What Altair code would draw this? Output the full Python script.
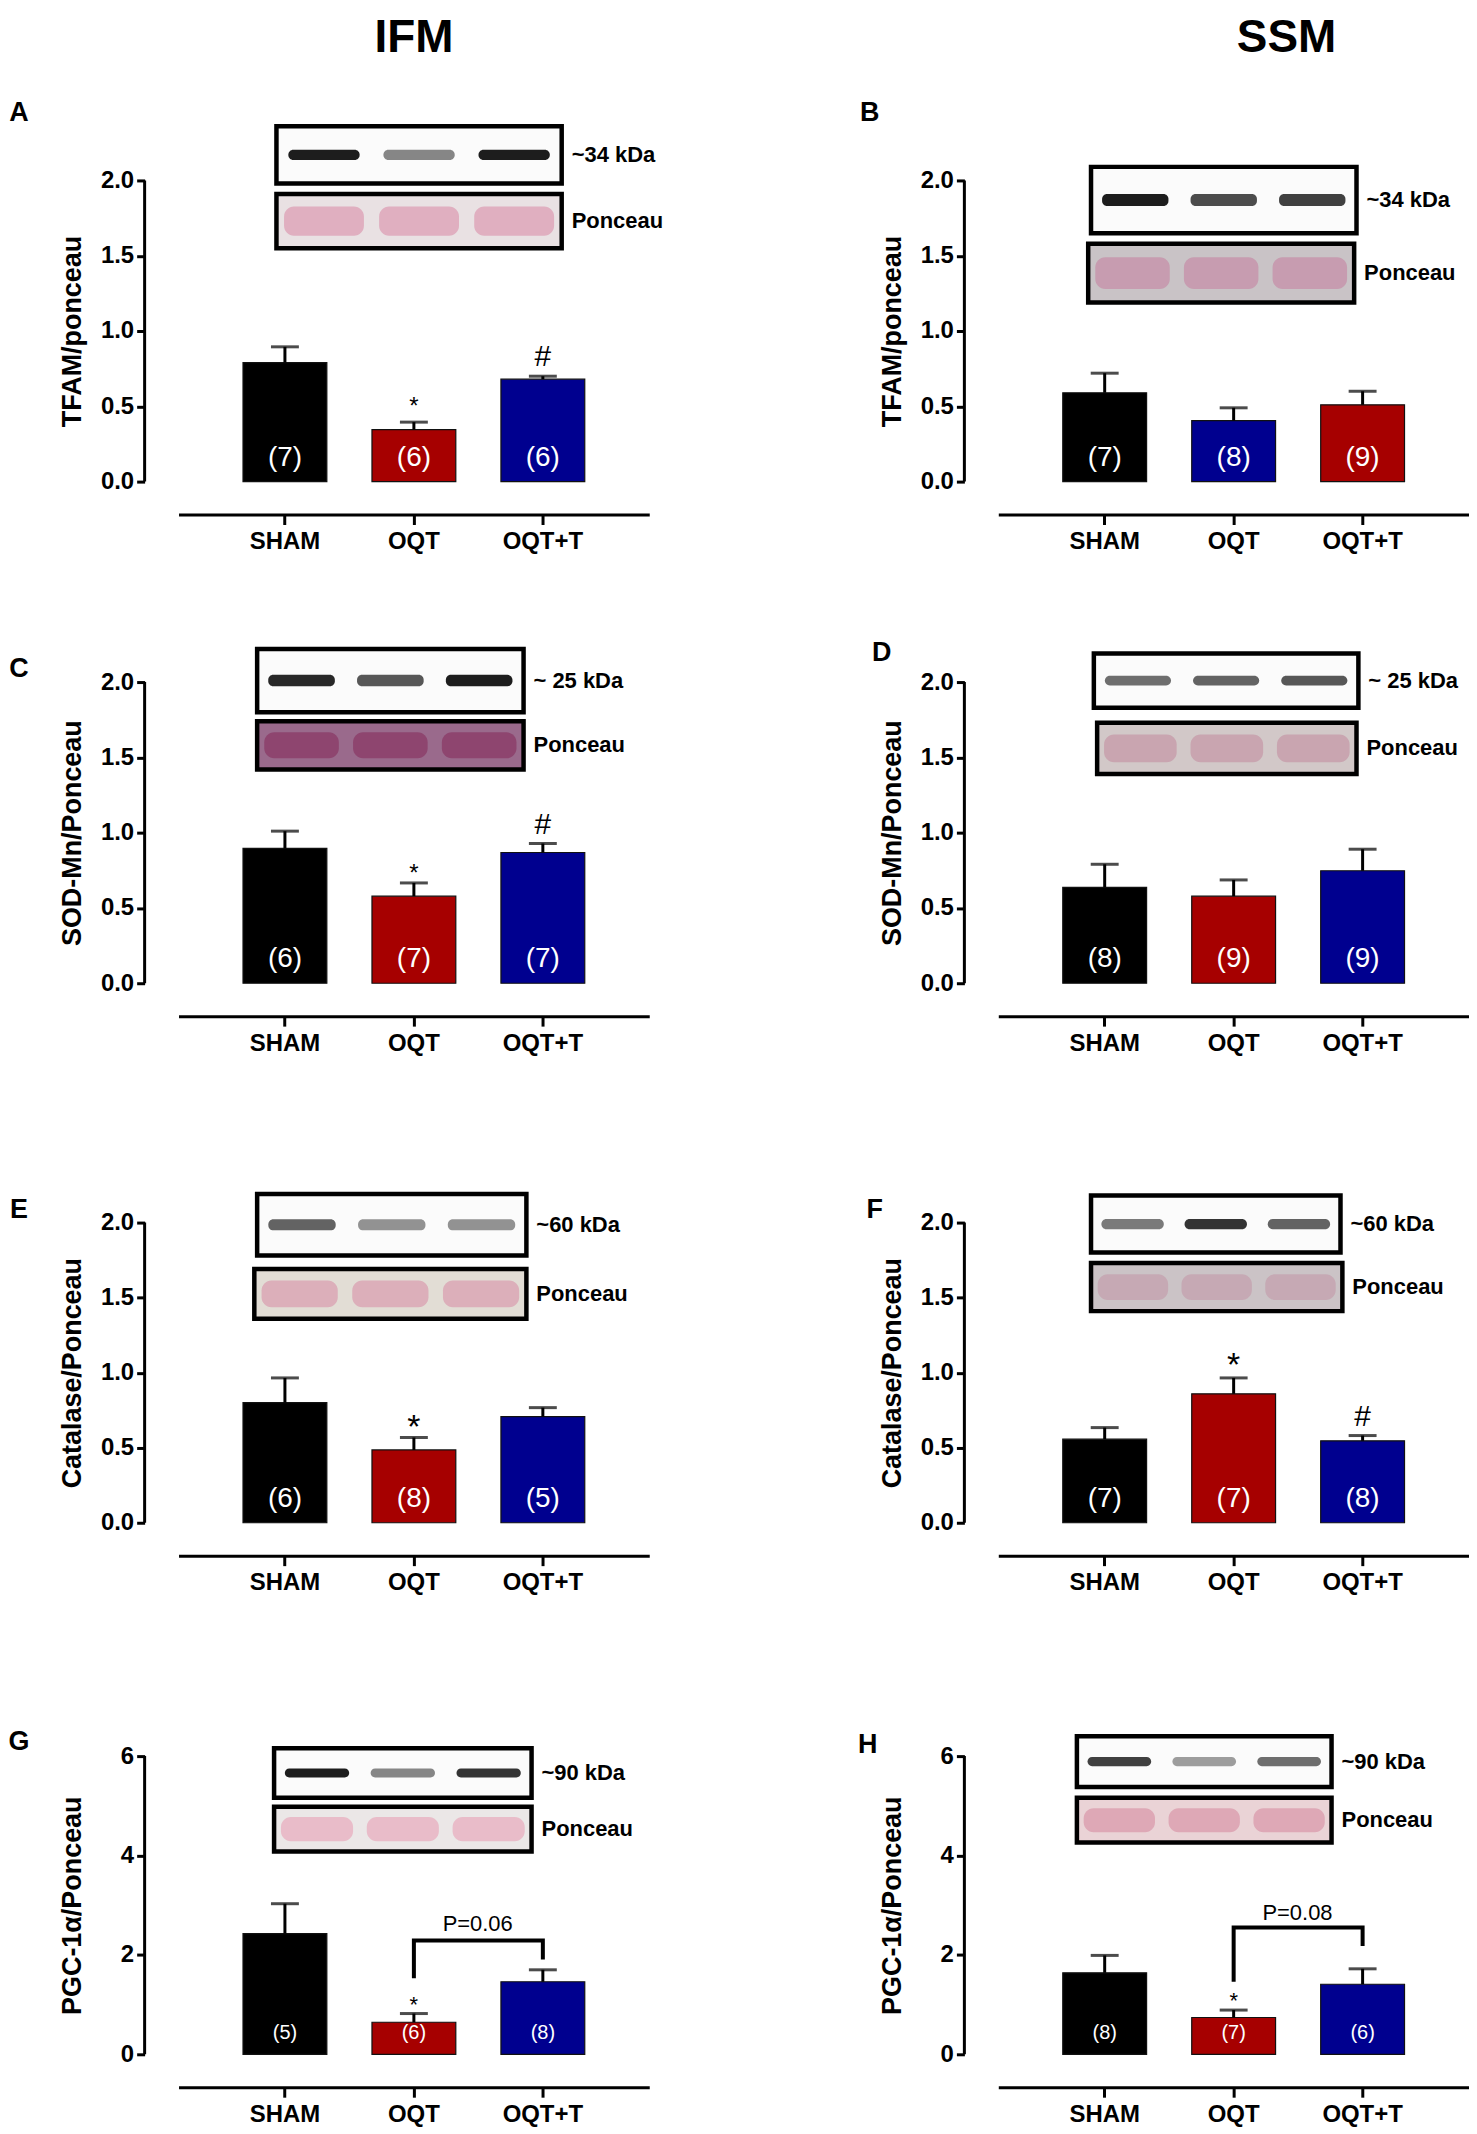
import altair as alt
import pandas as pd

FONT = "Liberation Sans, Arial, Helvetica, sans-serif"
CATS = ["SHAM", "OQT", "OQT+T"]
BLACK, RED, BLUE = "#000000", "#a60000", "#00008f"

# ---------------- values ----------------
A_MEAN = [0.79, 0.345, 0.68]; A_SEM = [0.105, 0.05, 0.02]; A_N = [7, 6, 6]; A_SIG = ["", "*", "#"]
B_MEAN = [0.59, 0.405, 0.51]; B_SEM = [0.13, 0.085, 0.09]; B_N = [7, 8, 9]; B_SIG = ["", "", ""]
C_MEAN = [0.895, 0.578, 0.868]; C_SEM = [0.115, 0.088, 0.06]; C_N = [6, 7, 7]; C_SIG = ["", "*", "#"]
D_MEAN = [0.637, 0.578, 0.747]; D_SEM = [0.153, 0.108, 0.143]; D_N = [8, 9, 9]; D_SIG = ["", "", ""]
E_MEAN = [0.80, 0.485, 0.707]; E_SEM = [0.165, 0.083, 0.06]; E_N = [6, 8, 5]; E_SIG = ["", "*", ""]
F_MEAN = [0.557, 0.859, 0.546]; F_SEM = [0.077, 0.106, 0.035]; F_N = [7, 7, 8]; F_SIG = ["", "*", "#"]
G_MEAN = [2.43, 0.645, 1.46]; G_SEM = [0.60, 0.175, 0.24]; G_N = [5, 6, 8]; G_SIG = ["", "*", ""]
H_MEAN = [1.64, 0.74, 1.41]; H_SEM = [0.35, 0.15, 0.31]; H_N = [8, 7, 6]; H_SIG = ["", "*", ""]

# bracket (OQT leg bottom, top, top, OQT+T leg bottom) and p-value label
G_BRACKET = [1.53, 2.29, 2.29, 1.91]; G_P = "P=0.06"; G_P_Y = 2.63
H_BRACKET = [1.46, 2.55, 2.55, 2.18]; H_P = "P=0.08"; H_P_Y = 2.84

# western-blot inset frames (y in data units, x as fraction of plot width)
A_BOX1_Y = [2.36, 1.98]; A_BOX1_X = [0.208, 0.814]; A_BOX2_Y = [1.91, 1.55]; A_BOX2_X = [0.208, 0.814]; A_BANDS = [0.95, 0.5, 0.95]
B_BOX1_Y = [2.09, 1.65]; B_BOX1_X = [0.197, 0.761]; B_BOX2_Y = [1.58, 1.19]; B_BOX2_X = [0.191, 0.756]; B_BANDS = [0.95, 0.75, 0.8]
C_BOX1_Y = [2.22, 1.80]; C_BOX1_X = [0.167, 0.733]; C_BOX2_Y = [1.74, 1.42]; C_BOX2_X = [0.167, 0.733]; C_BANDS = [0.9, 0.7, 0.95]
D_BOX1_Y = [2.19, 1.83]; D_BOX1_X = [0.203, 0.765]; D_BOX2_Y = [1.73, 1.39]; D_BOX2_X = [0.210, 0.761]; D_BANDS = [0.6, 0.65, 0.7]
E_BOX1_Y = [2.19, 1.78]; E_BOX1_X = [0.167, 0.739]; E_BOX2_Y = [1.69, 1.36]; E_BOX2_X = [0.161, 0.739]; E_BANDS = [0.65, 0.45, 0.45]
F_BOX1_Y = [2.18, 1.80]; F_BOX1_X = [0.197, 0.727]; F_BOX2_Y = [1.73, 1.41]; F_BOX2_X = [0.197, 0.731]; F_BANDS = [0.55, 0.85, 0.65]
G_BOX1_Y = [6.16, 5.16]; G_BOX1_X = [0.203, 0.750]; G_BOX2_Y = [4.98, 4.08]; G_BOX2_X = [0.203, 0.750]; G_BANDS = [0.95, 0.5, 0.85]
H_BOX1_Y = [6.40, 5.38]; H_BOX1_X = [0.167, 0.708]; H_BOX2_Y = [5.16, 4.26]; H_BOX2_X = [0.167, 0.708]; H_BANDS = [0.8, 0.4, 0.6]

TITLES = ["TFAM/ponceau", "TFAM/ponceau", "SOD-Mn/Ponceau", "SOD-Mn/Ponceau",
          "Catalase/Ponceau", "Catalase/Ponceau", "PGC-1\u03b1/Ponceau", "PGC-1\u03b1/Ponceau"]
KDA = ["~34 kDa", "~34 kDa", "~ 25 kDa", "~ 25 kDa", "~60 kDa", "~60 kDa", "~90 kDa", "~90 kDa"]

W = 472
# per row: pixel span of the 0..max axis, and free room above the axis top
ROW_SPAN = [302, 302, 301, 299]
ROW_EXTRA = [0, 51, 90, 84]
YOFF = 34


def panel(letter, ytitle, kda, mean, sem, n, sig, colors, box1y, box1x, box2y, box2x, bands,
          style, row, bracket=None, ptext=None, py=None, coltitle=None):
    ymax = style["ymax"]
    span, extra = ROW_SPAN[row], ROW_EXTRA[row]
    height = span + extra
    ytop = ymax * height / span
    yscale = alt.Scale(domain=[0, ytop], nice=False, zero=False)
    yaxis = alt.Axis(values=style["ticks"], format=style["fmt"], title=ytitle, offset=YOFF,
                     domain=False, tickWidth=3, tickSize=8, tickColor="black",
                     labelFontSize=24, labelFont=FONT, labelFontWeight="bold", labelColor="black",
                     labelPadding=3, titleFontSize=27, titleFont=FONT, titleFontWeight="bold",
                     titleColor="black", titleX=-72, titleY=extra + span / 2,
                     titleBaseline="middle", grid=False)
    xscale = alt.Scale(domain=CATS, paddingInner=0.35, paddingOuter=0.5)
    xaxis = alt.Axis(title=None, labelAngle=0, offset=33, domainWidth=3, domainColor="black",
                     tickWidth=3, tickSize=10, tickColor="black", labelFontSize=24, labelFont=FONT,
                     labelFontWeight="bold", labelColor="black", labelPadding=5, grid=False)
    X = alt.X("cat:N", scale=xscale, axis=xaxis, sort=CATS)

    def Y(field):
        return alt.Y(field, scale=yscale, axis=yaxis)

    df = pd.DataFrame({
        "cat": CATS, "mean": mean, "top": [m + s for m, s in zip(mean, sem)],
        "n": ["(%d)" % k for k in n], "sig": sig, "color": colors, "zero": [0, 0, 0],
    })
    base = alt.Chart(df)
    bars = base.mark_bar(stroke="#111111", strokeWidth=1.2).encode(
        x=X, y=Y("mean:Q"), y2="zero:Q", color=alt.Color("color:N", scale=None))
    err = base.mark_rule(color="black", strokeWidth=3).encode(x=X, y=Y("mean:Q"), y2="top:Q")
    cap = base.mark_tick(color="black", thickness=3, size=28).encode(x=X, y=Y("top:Q"))
    ntext = base.mark_text(color="white", fontSize=style["nsize"], font=FONT, baseline="middle",
                           dy=-style["ndy"]).encode(x=X, y=Y("zero:Q"), text="n:N")
    stars = base.transform_filter(alt.datum.sig == "*").mark_text(
        fontSize=style["star"], font=FONT, baseline="alphabetic", dy=style["stardy"], color="black"
    ).encode(x=X, y=Y("top:Q"), text="sig:N")
    hashes = base.transform_filter(alt.datum.sig == "#").mark_text(
        fontSize=30, font=FONT, baseline="alphabetic", dy=-10, color="black"
    ).encode(x=X, y=Y("top:Q"), text="sig:N")
    data_layers = [bars, err, cap, ntext, stars, hashes]

    if bracket is not None:
        bdf = pd.DataFrame({"cat": ["OQT", "OQT", "OQT+T", "OQT+T"], "v": bracket, "o": [0, 1, 2, 3]})
        data_layers.append(alt.Chart(bdf).mark_line(color="black", strokeWidth=4).encode(
            x=X, y=Y("v:Q"), order="o:Q"))
        pdf = pd.DataFrame({"cat": ["OQT"], "v": [py], "t": [ptext]})
        data_layers.append(alt.Chart(pdf).mark_text(fontSize=22, font=FONT, dx=64, color="black",
                                                    baseline="middle").encode(
            x=X, y=Y("v:Q"), text="t:N"))

    data_layer = alt.layer(*data_layers)

    # ---- y axis line (0 .. max only) ----
    adf = pd.DataFrame({"y": [0], "y2": [ymax]})
    axisline = alt.Chart(adf).mark_rule(color="black", strokeWidth=3).encode(
        x=alt.value(-YOFF), y=Y("y:Q"), y2="y2:Q")

    # ---- blot insets ----
    XB = alt.X("x:Q", scale=alt.Scale(domain=[0, 1], nice=False, zero=False), axis=None)
    boxdf = pd.DataFrame({
        "x": [box1x[0], box2x[0]], "x2": [box1x[1], box2x[1]],
        "y": [box1y[0], box2y[0]], "y2": [box1y[1], box2y[1]],
        "fill": ["#fbfbfb", style["pbg"]],
    })
    boxes = alt.Chart(boxdf).mark_rect(stroke="black", strokeWidth=4.5).encode(
        x=XB, x2="x2:Q", y=Y("y:Q"), y2="y2:Q", fill=alt.Fill("fill:N", scale=None))

    lanes = [1 / 6, 1 / 2, 5 / 6]
    w1 = box1x[1] - box1x[0]
    h1 = box1y[0] - box1y[1]
    mid1 = (box1y[0] + box1y[1]) / 2
    banddf = pd.DataFrame({
        "x": [box1x[0] + (c - 0.125) * w1 for c in lanes],
        "x2": [box1x[0] + (c + 0.125) * w1 for c in lanes],
        "y": [mid1 + 0.09 * h1] * 3, "y2": [mid1 - 0.09 * h1] * 3, "op": bands,
    })
    bandmarks = alt.Chart(banddf).mark_rect(cornerRadius=5, fill="#111111").encode(
        x=XB, x2="x2:Q", y=Y("y:Q"), y2="y2:Q", opacity=alt.Opacity("op:Q", scale=None))
    w2 = box2x[1] - box2x[0]
    h2 = box2y[0] - box2y[1]
    mid2 = (box2y[0] + box2y[1]) / 2
    pondf = pd.DataFrame({
        "x": [box2x[0] + (c - 0.14) * w2 for c in lanes],
        "x2": [box2x[0] + (c + 0.14) * w2 for c in lanes],
        "y": [mid2 + 0.27 * h2] * 3, "y2": [mid2 - 0.27 * h2] * 3,
    })
    ponmarks = alt.Chart(pondf).mark_rect(cornerRadius=10, fill=style["plane"], opacity=0.75).encode(
        x=XB, x2="x2:Q", y=Y("y:Q"), y2="y2:Q")
    labdf = pd.DataFrame({"x": [box1x[1], box2x[1]], "y": [mid1, mid2], "t": [kda, "Ponceau"]})
    labels = alt.Chart(labdf).mark_text(align="left", baseline="middle", dx=10, fontSize=22,
                                        font=FONT, fontWeight="bold", color="black").encode(
        x=XB, y=Y("y:Q"), text="t:N")

    ann = [axisline, boxes, bandmarks, ponmarks, labels]
    letdf = pd.DataFrame({"t": [letter]})
    ann.append(alt.Chart(letdf).mark_text(fontSize=27, font=FONT, fontWeight="bold", color="black",
                                          baseline="middle", align="center").encode(
        x=alt.value(style["lx"]), y=alt.value(extra + style["ly"]), text="t:N"))
    if coltitle is not None:
        ctdf = pd.DataFrame({"t": [coltitle]})
        ann.append(alt.Chart(ctdf).mark_text(fontSize=46, font=FONT, fontWeight="bold", color="black",
                                             baseline="middle", align="center").encode(
            x=alt.value(style["tx"]), y=alt.value(extra - 143), text="t:N"))
    ann_layer = alt.layer(*ann)

    return alt.layer(ann_layer, data_layer).resolve_scale(x="independent").properties(
        width=W, height=height)


S12 = dict(ymax=2.0, ticks=[0, 0.5, 1.0, 1.5, 2.0], fmt=".1f", nsize=28, ndy=24)
S4 = dict(ymax=6.0, ticks=[0, 2, 4, 6], fmt="d", nsize=20, ndy=21)

pA = panel("A", TITLES[0], KDA[0], A_MEAN, A_SEM, A_N, A_SIG, [BLACK, RED, BLUE],
           A_BOX1_Y, A_BOX1_X, A_BOX2_Y, A_BOX2_X, A_BANDS,
           dict(S12, star=24, stardy=-8, pbg="#e9e1e3", plane="#dc9db4", lx=-160, ly=-68, tx=236),
           0, coltitle="IFM")
pB = panel("B", TITLES[1], KDA[1], B_MEAN, B_SEM, B_N, B_SIG, [BLACK, BLUE, RED],
           B_BOX1_Y, B_BOX1_X, B_BOX2_Y, B_BOX2_X, B_BANDS,
           dict(S12, star=24, stardy=-8, pbg="#c9c3c6", plane="#c58fa8", lx=-129, ly=-68, tx=289),
           0, coltitle="SSM")
pC = panel("C", TITLES[2], KDA[2], C_MEAN, C_SEM, C_N, C_SIG, [BLACK, RED, BLUE],
           C_BOX1_Y, C_BOX1_X, C_BOX2_Y, C_BOX2_X, C_BANDS,
           dict(S12, star=24, stardy=-2, pbg="#9a6a8c", plane="#8a3a66", lx=-160, ly=-13), 1)
pD = panel("D", TITLES[3], KDA[3], D_MEAN, D_SEM, D_N, D_SIG, [BLACK, RED, BLUE],
           D_BOX1_Y, D_BOX1_X, D_BOX2_Y, D_BOX2_X, D_BANDS,
           dict(S12, star=24, stardy=-2, pbg="#d2c8c8", plane="#c699a8", lx=-117, ly=-29), 1)
pE = panel("E", TITLES[4], KDA[4], E_MEAN, E_SEM, E_N, E_SIG, [BLACK, RED, BLUE],
           E_BOX1_Y, E_BOX1_X, E_BOX2_Y, E_BOX2_X, E_BANDS,
           dict(S12, star=34, stardy=0, pbg="#e2ddd5", plane="#d99fb0", lx=-160, ly=-13), 2)
pF = panel("F", TITLES[5], KDA[5], F_MEAN, F_SEM, F_N, F_SIG, [BLACK, RED, BLUE],
           F_BOX1_Y, F_BOX1_X, F_BOX2_Y, F_BOX2_X, F_BANDS,
           dict(S12, star=34, stardy=-2, pbg="#cbc3c6", plane="#c4a0ae", lx=-124, ly=-13), 2)
pG = panel("G", TITLES[6], KDA[6], G_MEAN, G_SEM, G_N, G_SIG, [BLACK, RED, BLUE],
           G_BOX1_Y, G_BOX1_X, G_BOX2_Y, G_BOX2_X, G_BANDS,
           dict(S4, star=22, stardy=-2, pbg="#ebe7e7", plane="#e8aebf", lx=-160, ly=-14), 3,
           bracket=G_BRACKET, ptext=G_P, py=G_P_Y)
pH = panel("H", TITLES[7], KDA[7], H_MEAN, H_SEM, H_N, H_SIG, [BLACK, RED, BLUE],
           H_BOX1_Y, H_BOX1_X, H_BOX2_Y, H_BOX2_X, H_BANDS,
           dict(S4, star=22, stardy=-2, pbg="#ead3d6", plane="#d999ab", lx=-131, ly=-11), 3,
           bracket=H_BRACKET, ptext=H_P, py=H_P_Y)

chart = alt.concat(pA, pB, pC, pD, pE, pF, pG, pH, columns=2,
                   spacing={"row": 150, "column": 350}, bounds="flush").properties(
    padding={"top": 4, "left": 0, "right": 0, "bottom": 0}, background="white"
).configure(font=FONT).configure_view(stroke=None)

chart.save("out.html", embed_options={"renderer": "svg", "actions": False})
